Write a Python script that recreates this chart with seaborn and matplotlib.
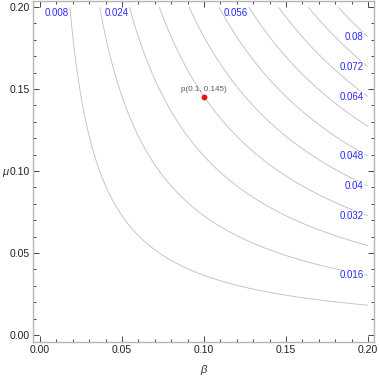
import numpy as np
import matplotlib
matplotlib.use("Agg")
import matplotlib.pyplot as plt
import seaborn as sns
from matplotlib.ticker import MultipleLocator

# ---- data ----
levels = [0.008, 0.016, 0.024, 0.032, 0.040, 0.048, 0.056, 0.064, 0.072, 0.080]
level_labels = ["0.008", "0.016", "0.024", "0.032", "0.04", "0.048", "0.056", "0.064", "0.072", "0.08"]
top_labeled = ["0.008", "0.024", "0.056"]
right_labeled = ["0.016", "0.032", "0.04", "0.048", "0.064", "0.072", "0.08"]
coef = 2.2                      # surface f(beta, mu) = coef * beta * mu
beta_range = [0.0, 0.2]
mu_range = [0.0, 0.2]
point = (0.1, 0.145)
point_label = "p(0.1, 0.145)"
xticks = [0.00, 0.05, 0.10, 0.15, 0.20]
yticks = [0.00, 0.05, 0.10, 0.15, 0.20]

sns.set_theme(style="ticks")
plt.rcParams['font.family'] = ['Liberation Sans', 'DejaVu Sans']

fig = plt.figure(figsize=(3.79, 3.77), dpi=100)
ax = fig.add_axes([0.0871, 0.0928, 0.8997, 0.9045])

b = np.linspace(beta_range[0], beta_range[1], 400)
m = np.linspace(mu_range[0], mu_range[1], 400)
B, M = np.meshgrid(b, m)
Z = coef * B * M
ax.contour(B, M, Z, levels=levels, colors="#c2c2c2", linewidths=0.65)

label_color = "#2a2aff"
bbox = dict(facecolor="white", edgecolor="none", pad=0.3)
for lev, lab in zip(levels, level_labels):
    if lab in top_labeled:
        xb = lev / (coef * mu_range[1])
        ax.text(xb - 0.0005, 0.1963, lab, ha="right", va="center",
                fontsize=7, color=label_color)
    elif lab in right_labeled:
        ym = lev / (coef * beta_range[1])
        ax.text(0.1975, ym, lab, ha="right", va="center",
                fontsize=7, color=label_color, bbox=bbox)

# point
ax.scatter([point[0]], [point[1]], s=18, color="#ee1111", zorder=5, linewidths=0)
ax.text(point[0], point[1] + 0.0048, point_label, ha="center", va="center",
        fontsize=5.8, color="#5a5a5a")

lim = (-0.0043, 0.2037)
ax.set_xlim(lim)
ax.set_ylim(lim)
ax.set_xticks(xticks)
ax.set_yticks(yticks)
ax.set_xticklabels([f"{t:.2f}" for t in xticks])
ax.set_yticklabels([f"{t:.2f}" for t in yticks])
ax.xaxis.set_minor_locator(MultipleLocator(0.01))
ax.yaxis.set_minor_locator(MultipleLocator(0.01))
ax.tick_params(which="both", direction="in", top=True, right=True,
               color="#444444", width=0.7)
ax.tick_params(which="major", length=4, labelsize=7.5, pad=2.5, labelcolor="#222222")
ax.tick_params(which="minor", length=2.2)
for s in ax.spines.values():
    s.set_color("#b5b5b5")
    s.set_linewidth(1.0)

ax.set_xlabel("β", fontsize=8, style="italic", color="#333333", va="center")
ax.set_ylabel("μ", fontsize=8, style="italic", color="#333333", rotation=0,
              va="center", ha="center")
ax.xaxis.set_label_coords(0.4985, -0.082)
ax.yaxis.set_label_coords(-0.082, 0.4985)

fig.savefig("out.png", dpi=100)
